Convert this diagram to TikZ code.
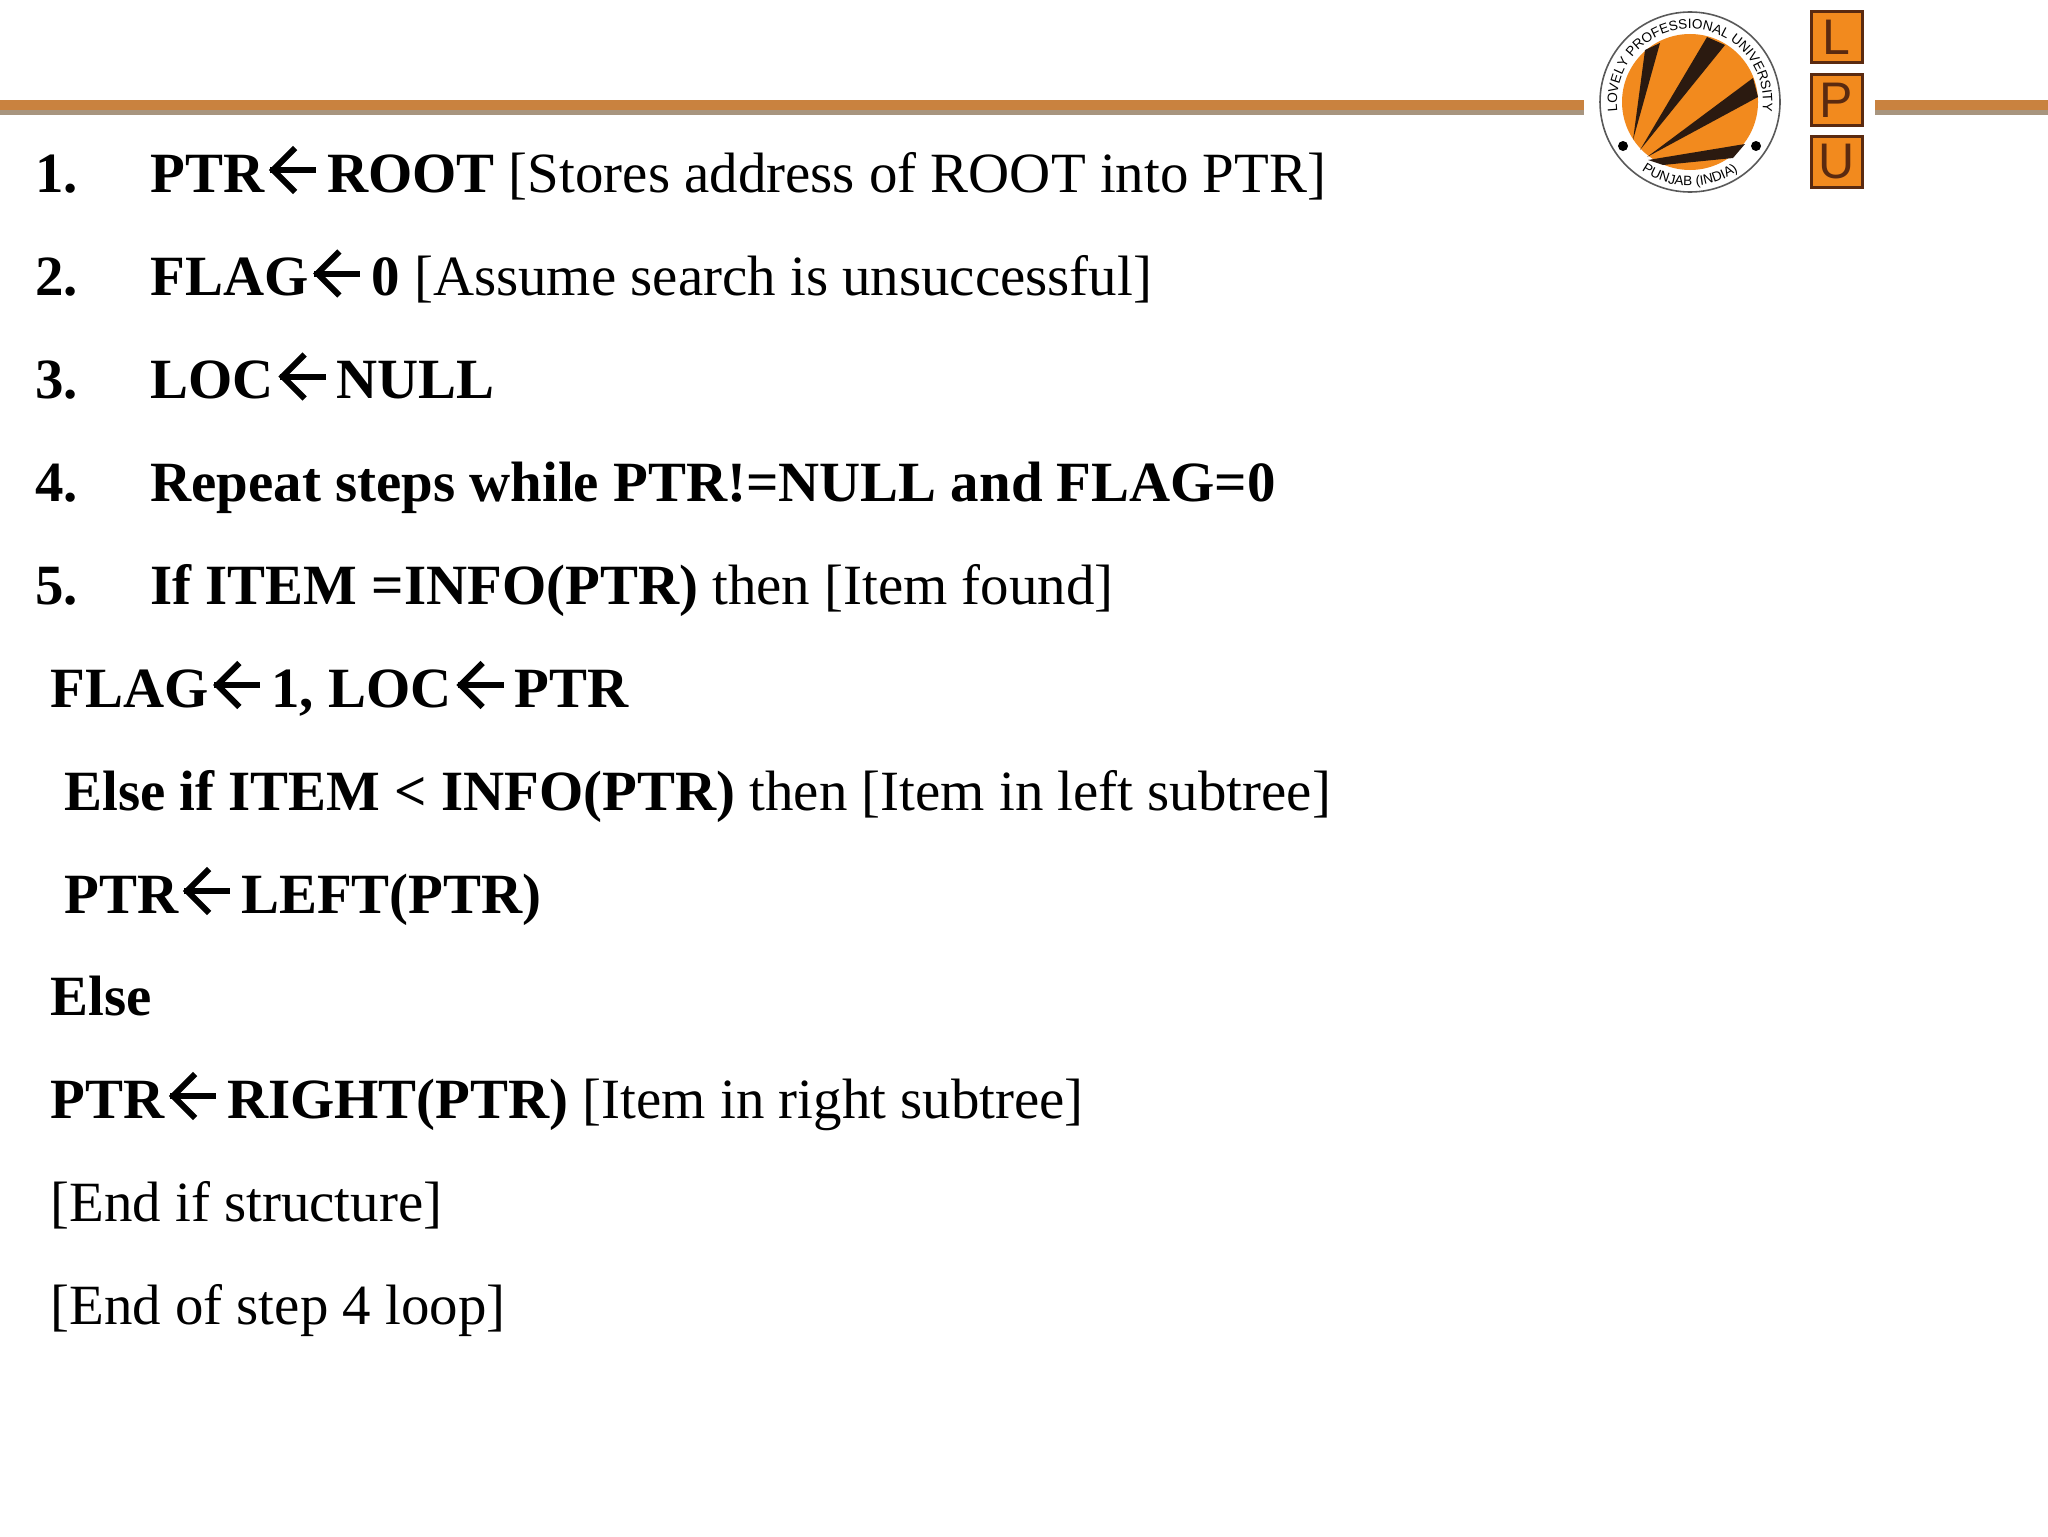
\documentclass[tikz,border=0pt]{standalone}
\usepackage{fontspec}
\setmainfont{Liberation Serif}
\setsansfont{Liberation Sans}
\usetikzlibrary{
	calc,
	decorations.text
}

\definecolor{bandbrown}{HTML}{C9823F}
\definecolor{bandgrey}{HTML}{A8957F}
\definecolor{logoorange}{HTML}{F28A1E}
\definecolor{logobrown}{HTML}{5A2A10}
\definecolor{logoray}{HTML}{2B1A10}

\newcommand{\getsarrow}{\hspace{1.5pt}\tikz[baseline=0pt, x=1pt, y=1pt, line width=3pt]{
	\draw (0,11) -- (23,11);
	\draw (12.5,22) -- (1.5,11) -- (12.5,0);
}\hspace{4pt}}

\tikzset{
	algoline/.style={anchor=base west, inner sep=0, font=\fontsize{28.45}{30}\selectfont},
	sealtext/.style={decorate, decoration={text along path, text align=center, text={#1}}},
	lpubox/.style={draw=logobrown, fill=logoorange, line width=1.5pt, minimum width=25.5pt, minimum height=25.5pt, inner sep=0, text=logobrown, font=\sffamily\fontsize{25}{27}\selectfont}
}

\begin{document}
\begin{tikzpicture}[
	x=0.5pt,
	y=-0.5pt
]
	\useasboundingbox (0,0) rectangle (2048,1536);

	% header band
	\fill[bandgrey] (0,108) rectangle (1584,115);
	\fill[bandbrown] (0,100) rectangle (1584,110);
	\fill[bandgrey] (1875,108) rectangle (2048,115);
	\fill[bandbrown] (1875,100) rectangle (2048,110);

	% logo
	\coordinate (seal) at (1690,102);
	\draw[gray!70!black, line width=0.8pt] (seal) circle [radius=45pt];
	\fill[logoorange] (seal) circle [radius=34pt];
	\fill[logoray] (1633,140) -- (1645,50) -- (1660,43) -- cycle;
	\fill[logoray] (1640,150) -- (1707,37) -- (1725,45) -- cycle;
	\fill[logoray] (1647,157) -- (1753,78) -- (1758,97) -- cycle;
	\fill[logoray] (1648,160) -- (1745,144) -- (1733,158) -- (1663,165) -- cycle;
	\fill[black] (1623,146) circle [radius=2.5pt];
	\fill[black] (1756,146) circle [radius=2.5pt];
	\path[sealtext={|\sffamily\fontsize{6.8}{7}\selectfont|LOVELY PROFESSIONAL UNIVERSITY}]
		($(seal)+(200:36.5pt)$) arc [start angle=200, end angle=-20, radius=36.5pt];
	\path[sealtext={|\sffamily\fontsize{6.8}{7}\selectfont|PUNJAB (INDIA)}]
		($(seal)+(225:42pt)$) arc [start angle=225, end angle=315, radius=42pt];

	\node (lpuL)[lpubox] at (1836.5,37.5) {L};
	\node (lpuP)[lpubox] at (1836.5,100) {P};
	\node (lpuU)[lpubox] at (1836.5,162) {U};

	% numbered steps
	\node (num1)[algoline] at (35,192) {\textbf{1.}};
	\node (step1)[algoline] at (150,192) {\textbf{PTR\getsarrow ROOT} [Stores address of ROOT into PTR]};
	\node (num2)[algoline] at (35,295.5) {\textbf{2.}};
	\node (step2)[algoline] at (150,295.5) {\textbf{FLAG\getsarrow 0} [Assume search is unsuccessful]};
	\node (num3)[algoline] at (35,398.5) {\textbf{3.}};
	\node (step3)[algoline] at (150,398.5) {\textbf{LOC\getsarrow NULL}};
	\node (num4)[algoline] at (35,501) {\textbf{4.}};
	\node (step4)[algoline] at (150,501) {\textbf{Repeat steps while PTR!=NULL and FLAG=0}};
	\node (num5)[algoline] at (35,604) {\textbf{5.}};
	\node (step5)[algoline] at (150,604) {\textbf{If ITEM =INFO(PTR)} then [Item found]};

	% body of step 5
	\node (found)[algoline] at (50,707) {\textbf{FLAG\getsarrow 1, LOC\getsarrow PTR}};
	\node (elseif)[algoline] at (64,810) {\textbf{Else if ITEM < INFO(PTR)} then [Item in left subtree]};
	\node (left)[algoline] at (64,913) {\textbf{PTR\getsarrow LEFT(PTR)}};
	\node (else)[algoline] at (50,1015.5) {\textbf{Else}};
	\node (right)[algoline] at (50,1118) {\textbf{PTR\getsarrow RIGHT(PTR)} [Item in right subtree]};
	\node (endif)[algoline] at (50,1221) {[End if structure]};
	\node (endloop)[algoline] at (50,1324) {[End of step 4 loop]};
\end{tikzpicture}
\end{document}
